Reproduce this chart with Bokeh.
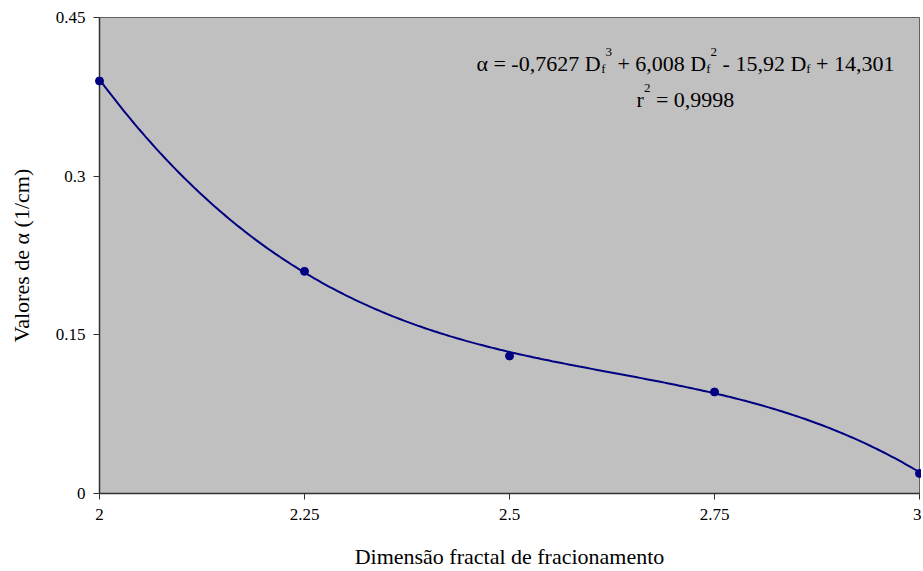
import numpy as np
from bokeh.plotting import figure
from bokeh.models import FixedTicker, Range1d
from bokeh.core.properties import value
from bokeh.embed import file_html
from bokeh.resources import INLINE

# ---- data ----
df_values = [2.0, 2.25, 2.5, 2.75, 3.0]
alpha_values = [0.390, 0.210, 0.130, 0.096, 0.019]
x_ticks = [2.0, 2.25, 2.5, 2.75, 3.0]
x_tick_labels = ["2", "2.25", "2.5", "2.75", "3"]
y_ticks = [0.0, 0.15, 0.3, 0.45]
y_tick_labels = ["0", "0.15", "0.3", "0.45"]
# trendline shown on the chart (cubic, as printed in its equation)
trend_coeffs = [-0.7627, 6.008, -15.92, 14.301]

FONT = "Liberation Serif"
NAVY = "#000080"

p = figure(width=921, height=571, output_backend="svg", toolbar_location=None,
           x_range=Range1d(2, 3), y_range=Range1d(0, 0.45),
           min_border_left=99, min_border_right=2, min_border_top=17, min_border_bottom=78)
p.background_fill_color = "#C0C0C0"
p.border_fill_color = "white"
p.outline_line_color = "#606060"
p.outline_line_width = 1
p.grid.visible = False

for ax in (p.xaxis[0], p.yaxis[0]):
    ax.axis_line_color = "#303030"
    ax.axis_line_width = 1.5
    ax.major_tick_line_color = "#303030"
    ax.major_tick_in = 0
    ax.major_tick_out = 6
    ax.minor_tick_line_color = None
    ax.major_label_text_font = FONT
    ax.major_label_text_font_size = "17px"
    ax.major_label_text_color = "black"
    ax.axis_label_text_font = FONT
    ax.axis_label_text_font_size = "22px"
    ax.axis_label_text_font_style = "normal"
    ax.axis_label_text_color = "black"

p.xaxis.ticker = FixedTicker(ticks=x_ticks)
p.xaxis.major_label_overrides = {t: l for t, l in zip(x_ticks, x_tick_labels)}
p.yaxis.ticker = FixedTicker(ticks=y_ticks)
p.yaxis.major_label_overrides = {t: l for t, l in zip(y_ticks, y_tick_labels)}
p.xaxis.major_label_standoff = 9
p.yaxis.major_label_standoff = 8
p.xaxis.axis_label = "Dimensão fractal de fracionamento"
p.yaxis.axis_label = "Valores de α (1/cm)"
p.xaxis.axis_label_standoff = 21
p.yaxis.axis_label_standoff = 19

# trendline
xs = np.linspace(df_values[0], df_values[-1], 300)
ys = np.polyval(trend_coeffs, xs)
p.line(xs, ys, line_color=NAVY, line_width=2)

# data points
p.scatter(df_values, alpha_values, size=8, fill_color=NAVY, line_color=NAVY, level="overlay")

# ---- equation annotation (built from pieces: normal, subscript, superscript) ----
W = {" ": 0.25, "-": 0.333, ",": 0.25, ".": 0.25, "=": 0.564, "+": 0.564,
     "D": 0.722, "f": 0.333, "r": 0.333, "α": 0.55}
def text_width(s, size):
    return sum(W.get(ch, 0.5) for ch in s) * size

MAIN = 22
SMALL = 13
def eq_line(segments, cx, cy):
    widths = [text_width(s, MAIN if k == 0 else SMALL) for s, k in segments]
    total = sum(widths)
    x0 = -total / 2
    for (s, k), w in zip(segments, widths):
        size = MAIN if k == 0 else SMALL
        yoff = 0 if k == 0 else (-11 if k == 1 else 5)
        lead = len(s) - len(s.lstrip(" "))
        shift = text_width(s[:lead], size)
        p.text(x=[cx], y=[cy], text=[s.strip(" ")], x_offset=x0 + shift, y_offset=yoff,
               text_font=value(FONT), text_font_size=f"{size}px",
               text_color="black", text_align="left", text_baseline="alphabetic")
        x0 += w

eq_x = 2.7146
eq_line([("α = -0,7627 D", 0), ("f", -1), ("3", 1), (" + 6,008 D", 0), ("f", -1), ("2", 1),
         (" - 15,92 D", 0), ("f", -1), (" + 14,301", 0)], eq_x, 0.4068)
eq_line([("r", 0), ("2", 1), (" = 0,9998", 0)], eq_x, 0.3728)

open("out.html", "w").write(file_html(p, INLINE))
